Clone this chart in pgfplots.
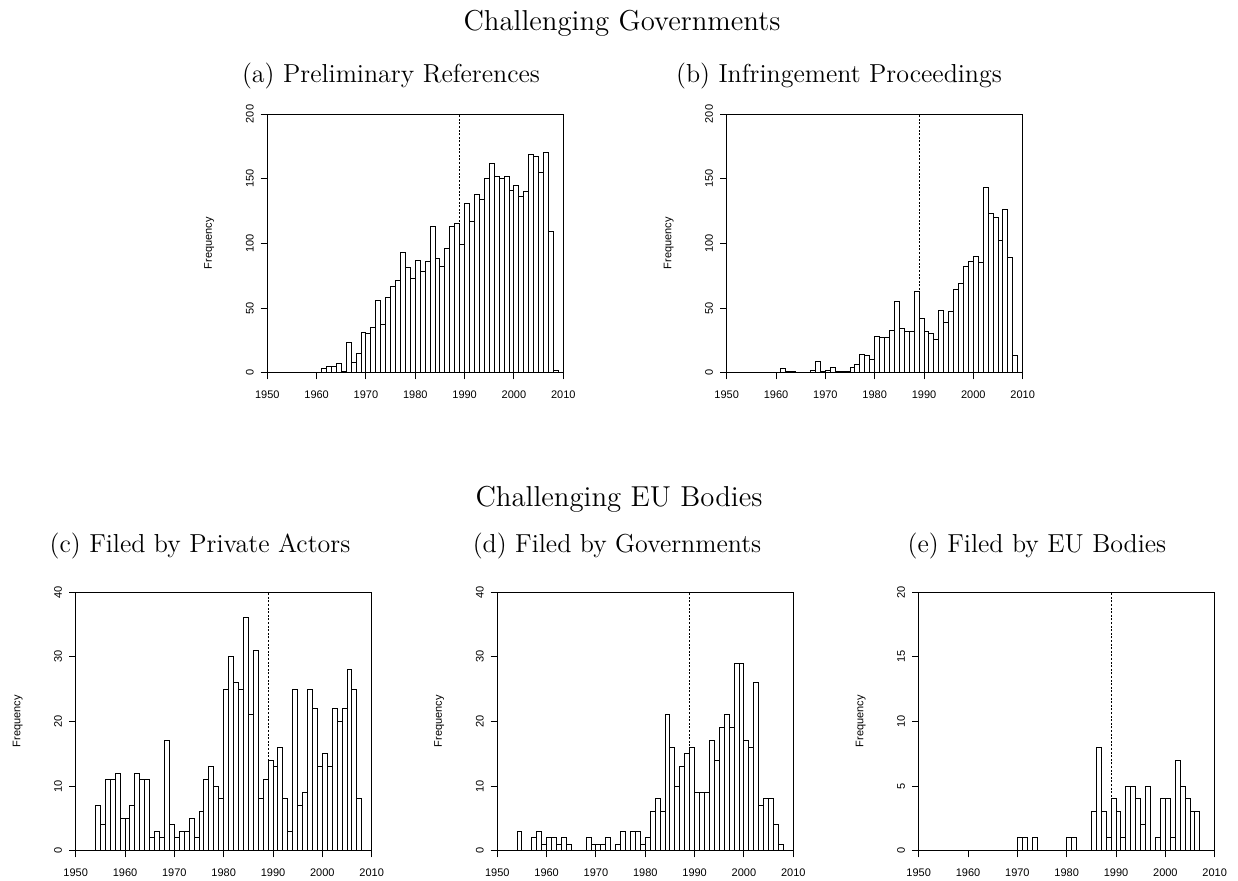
\documentclass[border=0pt]{standalone}
\usepackage{fontspec}
\usepackage{pgfplots}
\pgfplotsset{compat=1.18}
\newfontfamily\rfont{Liberation Sans}

\pgfplotsset{
  histo/.style={
    scale only axis, width=148pt, height=129.35pt,
    xmin=1950, xmax=2010, ymin=0,
    xtick={1950,1960,...,2010},
    xticklabels={1950,1960,1970,1980,1990,2000,2010},
    tick align=outside, tick pos=left,
    major tick length=3.3pt,
    tick style={black, line width=0.5pt},
    axis line style={line width=0.5pt},
    tick label style={font=\rfont\fontsize{5.5}{6}\selectfont},
    xticklabel style={yshift=-2pt},
    yticklabel style={rotate=90, anchor=south},
    ylabel={Frequency},
    ylabel style={font=\rfont\fontsize{5.5}{6}\selectfont, at={(axis description cs:-0.196,0.5)}, anchor=center},
    clip=false,
  },
  bars/.style={ybar interval, fill=white, draw=black, line width=0.5pt},
  vline/.style={black, line width=0.5pt, dash pattern=on 1pt off 0.8pt},
}

\begin{document}
\begin{tikzpicture}
\useasboundingbox (0,0) rectangle (619pt,-440pt);

\node[anchor=base, font=\fontsize{14.4}{17}\selectfont] at (311pt,-15pt) {Challenging Governments};
\node[anchor=base, font=\fontsize{13}{15}\selectfont] at (195.5pt,-41pt) {(a) Preliminary References};
\node[anchor=base, font=\fontsize{13}{15}\selectfont] at (419.5pt,-41pt) {(b) Infringement Proceedings};

\node[anchor=base, font=\fontsize{14.4}{17}\selectfont] at (309.5pt,-253pt) {Challenging EU Bodies};
\node[anchor=base, font=\fontsize{13}{15}\selectfont] at (100pt,-276pt) {(c) Filed by Private Actors};
\node[anchor=base, font=\fontsize{13}{15}\selectfont] at (308.5pt,-276pt) {(d) Filed by Governments};
\node[anchor=base, font=\fontsize{13}{15}\selectfont] at (518.5pt,-276pt) {(e) Filed by EU Bodies};

% (a)
\begin{axis}[histo, at={(133.65pt,-186.35pt)}, anchor=south west,
  ymax=200, ytick={0,50,100,150,200}, yticklabels={0,50,100,150,200}]
\addplot[vline] coordinates {(1989,0) (1989,200)};
\addplot[bars] coordinates {
(1961,3) (1962,5) (1963,5) (1964,7) (1965,1) (1966,23) (1967,8) (1968,15) (1969,31) (1970,30)
(1971,35) (1972,56) (1973,37) (1974,58) (1975,67) (1976,71) (1977,93) (1978,81) (1979,73) (1980,87)
(1981,78) (1982,86) (1983,113) (1984,88) (1985,82) (1986,96) (1987,113) (1988,115) (1989,99) (1990,131)
(1991,117) (1992,138) (1993,134) (1994,150) (1995,162) (1996,152) (1997,150) (1998,152) (1999,141) (2000,145)
(2001,136) (2002,140) (2003,169) (2004,167) (2005,155) (2006,170) (2007,109) (2008,2) (2009,0)};
\end{axis}

% (b)
\begin{axis}[histo, at={(363.35pt,-186.35pt)}, anchor=south west,
  ymax=200, ytick={0,50,100,150,200}, yticklabels={0,50,100,150,200}]
\addplot[vline] coordinates {(1989,0) (1989,200)};
\addplot[bars] coordinates {
(1961,3) (1962,1) (1963,1) (1964,0) (1965,0) (1966,0) (1967,2) (1968,9) (1969,1) (1970,2)
(1971,4) (1972,1) (1973,1) (1974,1) (1975,4) (1976,6) (1977,14) (1978,13) (1979,10) (1980,28)
(1981,27) (1982,27) (1983,33) (1984,55) (1985,34) (1986,32) (1987,32) (1988,63) (1989,42) (1990,32)
(1991,30) (1992,26) (1993,48) (1994,39) (1995,47) (1996,64) (1997,69) (1998,82) (1999,86) (2000,90)
(2001,85) (2002,143) (2003,123) (2004,120) (2005,102) (2006,126) (2007,89) (2008,13) (2009,0)};
\end{axis}

% (c)
\begin{axis}[histo, at={(37.85pt,-425.35pt)}, anchor=south west,
  ymax=40, ytick={0,10,20,30,40}, yticklabels={0,10,20,30,40}]
\addplot[vline] coordinates {(1989,0) (1989,40)};
\addplot[bars] coordinates {
(1954,7) (1955,4) (1956,11) (1957,11) (1958,12) (1959,5) (1960,5)
(1961,7) (1962,12) (1963,11) (1964,11) (1965,2) (1966,3) (1967,2) (1968,17) (1969,4) (1970,2)
(1971,3) (1972,3) (1973,5) (1974,2) (1975,6) (1976,11) (1977,13) (1978,10) (1979,8) (1980,25)
(1981,30) (1982,26) (1983,25) (1984,36) (1985,21) (1986,31) (1987,8) (1988,11) (1989,14) (1990,13)
(1991,16) (1992,8) (1993,3) (1994,25) (1995,7) (1996,9) (1997,25) (1998,22) (1999,13) (2000,15)
(2001,13) (2002,22) (2003,20) (2004,22) (2005,28) (2006,25) (2007,8) (2008,0)};
\end{axis}

% (d)
\begin{axis}[histo, at={(248.65pt,-425.35pt)}, anchor=south west,
  ymax=40, ytick={0,10,20,30,40}, yticklabels={0,10,20,30,40}]
\addplot[vline] coordinates {(1989,0) (1989,40)};
\addplot[bars] coordinates {
(1954,3) (1955,0) (1956,0) (1957,2) (1958,3) (1959,1) (1960,2)
(1961,2) (1962,1) (1963,2) (1964,1) (1965,0) (1966,0) (1967,0) (1968,2) (1969,1) (1970,1)
(1971,1) (1972,2) (1973,0) (1974,1) (1975,3) (1976,0) (1977,3) (1978,3) (1979,1) (1980,2)
(1981,6) (1982,8) (1983,6) (1984,21) (1985,16) (1986,10) (1987,13) (1988,15) (1989,16) (1990,9)
(1991,9) (1992,9) (1993,17) (1994,14) (1995,19) (1996,21) (1997,19) (1998,29) (1999,29) (2000,17)
(2001,16) (2002,26) (2003,7) (2004,8) (2005,8) (2006,4) (2007,1) (2008,0)};
\end{axis}

% (e)
\begin{axis}[histo, at={(459.35pt,-425.35pt)}, anchor=south west,
  ymax=20, ytick={0,5,10,15,20}, yticklabels={0,5,10,15,20}]
\addplot[vline] coordinates {(1989,0) (1989,20)};
\addplot[bars] coordinates {
(1970,1) (1971,1) (1972,0) (1973,1) (1974,0) (1975,0) (1976,0) (1977,0) (1978,0) (1979,0) (1980,1)
(1981,1) (1982,0) (1983,0) (1984,0) (1985,3) (1986,8) (1987,3) (1988,1) (1989,4) (1990,3)
(1991,1) (1992,5) (1993,5) (1994,4) (1995,2) (1996,5) (1997,0) (1998,1) (1999,4) (2000,4)
(2001,1) (2002,7) (2003,5) (2004,4) (2005,3) (2006,3) (2007,0)};
\end{axis}
\end{tikzpicture}
\end{document}
